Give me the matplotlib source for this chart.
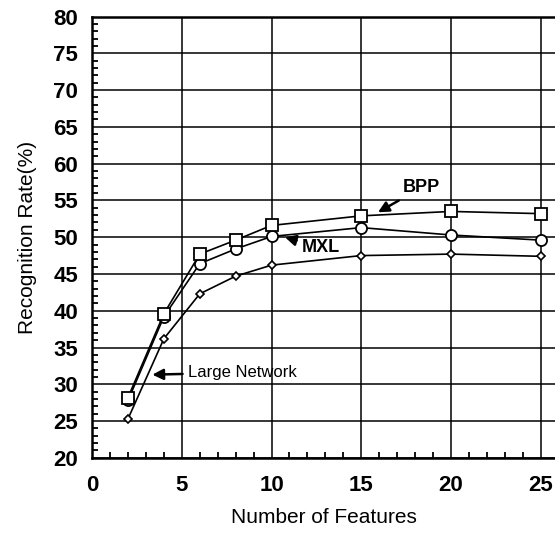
import matplotlib
matplotlib.use('Agg')
import matplotlib.pyplot as plt
from matplotlib.ticker import MultipleLocator

# ── Data ──────────────────────────────────────────────────────────────────────

features = [2, 4, 6, 8, 10, 15, 20, 25]
bpp      = [28.2, 39.6, 47.7, 49.6, 51.6, 52.9, 53.5, 53.2]
mxl      = [27.8, 39.2, 46.4, 48.4, 50.1, 51.3, 50.3, 49.6]
large_nn = [25.3, 36.2, 42.3, 44.7, 46.2, 47.5, 47.7, 47.4]

x_ticks = [0, 5, 10, 15, 20, 25]
y_ticks = [20, 25, 30, 35, 40, 45, 50, 55, 60, 65, 70, 75, 80]

plt.rcParams['font.family'] = ['Liberation Sans', 'DejaVu Sans']

fig = plt.figure(figsize=(5.55, 5.33), dpi=100)
ax = fig.add_axes([0.166, 0.141, 0.834, 0.828])

ax.plot(features, large_nn, color='black', lw=1.2, marker='D', markersize=4.5,
        markerfacecolor='white', markeredgecolor='black', markeredgewidth=1.2, zorder=3)
ax.plot(features, mxl, color='black', lw=1.2, marker='o', markersize=8,
        markerfacecolor='white', markeredgecolor='black', markeredgewidth=1.3, zorder=4)
ax.plot(features, bpp, color='black', lw=1.2, marker='s', markersize=8,
        markerfacecolor='white', markeredgecolor='black', markeredgewidth=1.3, zorder=5)

# annotations
arrow = dict(arrowstyle='-|>', color='black', lw=1.8, mutation_scale=16)
ax.annotate('BPP', xy=(15.8, 53.2), xytext=(17.3, 56.7), fontsize=13,
            fontweight='bold', va='center', ha='left', arrowprops=arrow)
ax.annotate('MXL', xy=(10.6, 50.1), xytext=(11.7, 48.6), fontsize=13,
            fontweight='bold', va='center', ha='left', arrowprops=arrow)
ax.annotate('Large Network', xy=(3.2, 31.3), xytext=(5.35, 31.6), fontsize=12,
            va='center', ha='left', arrowprops=arrow)

ax.set_xlim(0, 25.8)
ax.set_ylim(20, 80)
ax.set_xticks(x_ticks)
ax.set_yticks(y_ticks)
ax.xaxis.set_minor_locator(MultipleLocator(1))
ax.yaxis.set_minor_locator(MultipleLocator(1))
ax.tick_params(which='both', direction='in', top=False, right=False)
ax.tick_params(which='major', length=0, labelsize=16)
ax.tick_params(axis='x', which='major', pad=12)
ax.tick_params(axis='y', which='major', pad=10)
ax.tick_params(which='minor', length=4.5, width=1.3)
for lab in ax.get_xticklabels() + ax.get_yticklabels():
    lab.set_fontweight('bold')

ax.grid(True, which='major', color='black', lw=1.1)
for side in ['left', 'bottom', 'top']:
    ax.spines[side].set_linewidth(1.8)
ax.spines['right'].set_visible(False)

ax.set_xlabel('Number of Features', fontsize=15, labelpad=9)
ax.set_ylabel('Recognition Rate(%)', fontsize=15, labelpad=12)

plt.savefig('out.png', dpi=100)
plt.close()
